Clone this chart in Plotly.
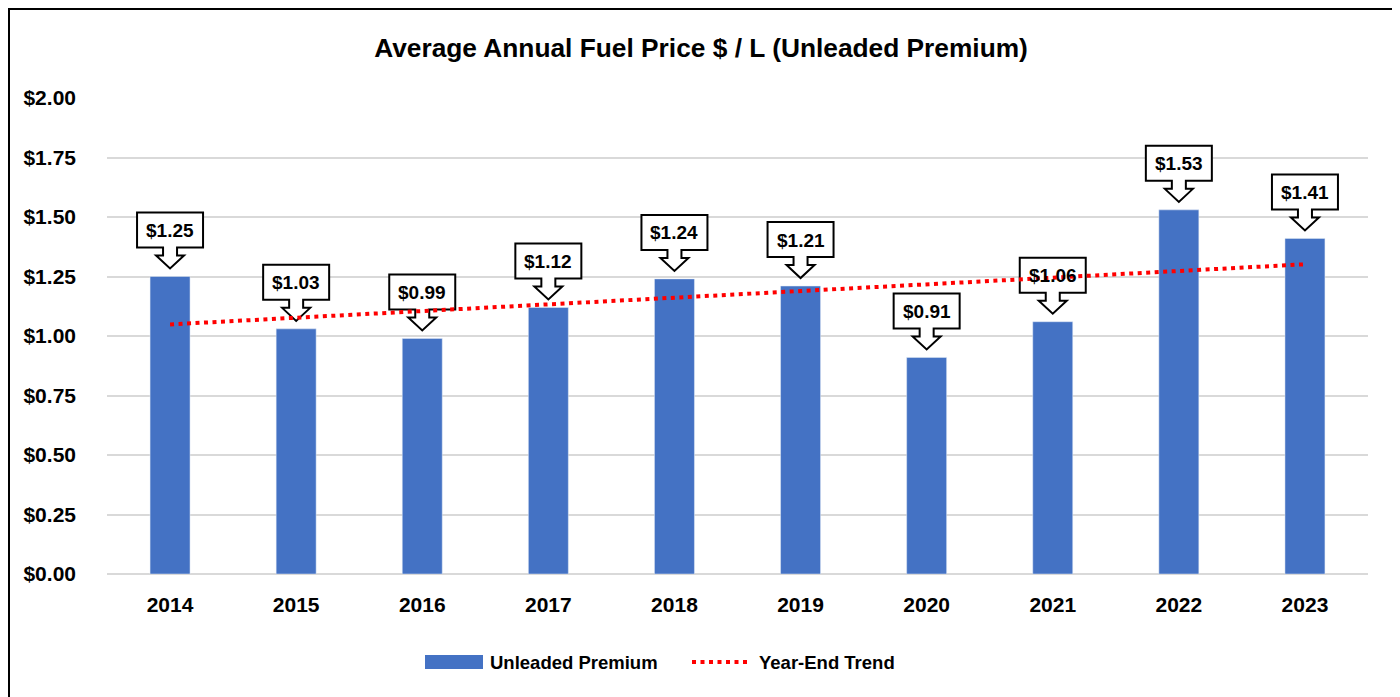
import numpy as np
import plotly.graph_objects as go

years = ["2014", "2015", "2016", "2017", "2018", "2019", "2020", "2021", "2022", "2023"]
prices = [1.25, 1.03, 0.99, 1.12, 1.24, 1.21, 0.91, 1.06, 1.53, 1.41]
y_ticks = [0, 0.25, 0.5, 0.75, 1.0, 1.25, 1.5, 1.75, 2.0]
y_tick_labels = [f"${t:.2f}" for t in y_ticks]

BLUE = "#4472C4"
FONT = "Liberation Sans Narrow, Arial Narrow, Liberation Sans, Arial, sans-serif"

# linear trend (as Excel's linear trendline)
xi = np.arange(len(prices))
slope, intercept = np.polyfit(xi, prices, 1)
trend = intercept + slope * xi

# the page adds an 8px body margin, so the figure is sized/offset to compensate
OFF = 8
W, H = 1400 - OFF, 697 - OFF
ML, MR, MT, MB = 107 - OFF, 32, 98 - OFF, 123
PW, PH = W - ML - MR, H - MT - MB

def px_x(p):  # page pixel -> paper
    return (p - OFF - ML) / PW

def px_y(p):
    return 1 - (p - OFF - MT) / PH

fig = go.Figure()
fig.add_trace(go.Bar(x=xi, y=prices, name="Unleaded Premium", marker_color=BLUE,
                     width=0.317, showlegend=False))
fig.add_trace(go.Scatter(x=xi, y=trend, name="Year-End Trend", mode="lines",
                         line=dict(color="#FF0000", width=4, dash="4px,4.5px"),
                         showlegend=False))

shapes = []
annotations = []
callout = "M -33,29 L -33,64 L 33,64 L 33,29 L 7,29 L 7,21 L 14,21 L 0,8 L -14,21 L -7,21 L -7,29 Z"
for i, v in zip(xi, prices):
    shapes.append(dict(type="path", xref="x", yref="y", xsizemode="pixel", ysizemode="pixel",
                       xanchor=int(i), yanchor=v, path=callout, fillcolor="white",
                       line=dict(color="black", width=2), layer="between"))
    annotations.append(dict(x=int(i), y=v, xref="x", yref="y", text=f"${v:.2f}", showarrow=False,
                            yshift=46, font=dict(family=FONT, size=19, color="black", weight="bold")))

# outer border
shapes.append(dict(type="rect", xref="paper", yref="paper", x0=px_x(9), x1=px_x(1397),
                   y0=px_y(9), y1=px_y(720), line=dict(color="black", width=2),
                   fillcolor="rgba(0,0,0,0)", layer="above"))

# custom legend
shapes.append(dict(type="rect", xref="paper", yref="paper", x0=px_x(425), x1=px_x(483),
                   y0=px_y(655), y1=px_y(669), fillcolor=BLUE, line=dict(width=0)))
shapes.append(dict(type="line", xref="paper", yref="paper", x0=px_x(692), x1=px_x(750),
                   y0=px_y(662), y1=px_y(662), line=dict(color="#FF0000", width=4, dash="4px,4.5px")))
annotations.append(dict(x=px_x(488), y=px_y(662), xref="paper", yref="paper", text="Unleaded Premium",
                        xanchor="left", yanchor="middle", showarrow=False,
                        font=dict(family=FONT, size=18.5, color="black", weight="bold")))
annotations.append(dict(x=px_x(757), y=px_y(662), xref="paper", yref="paper", text="Year-End Trend",
                        xanchor="left", yanchor="middle", showarrow=False,
                        font=dict(family=FONT, size=18.5, color="black", weight="bold")))

fig.update_layout(
    width=W, height=H,
    margin=dict(l=ML, r=MR, t=MT, b=MB),
    paper_bgcolor="white", plot_bgcolor="white",
    title=dict(text="Average Annual Fuel Price $ / L (Unleaded Premium)", x=(701 - OFF) / W,
               xref="container", y=1 - (48 - OFF) / H, yref="container",
               xanchor="center", yanchor="middle",
               font=dict(family=FONT, size=26.3, color="black", weight="bold")),
    shapes=shapes, annotations=annotations,
    xaxis=dict(range=[-0.5, len(years) - 0.5], tickvals=xi, ticktext=years,
               showgrid=False, showline=False, ticks="", zeroline=False,
               tickfont=dict(family=FONT, size=21, color="black", weight="bold"),
               ticklabelstandoff=16),
    yaxis=dict(range=[0, 2], tickvals=y_ticks, ticktext=y_tick_labels,
               showgrid=True, gridcolor="#D9D9D9", gridwidth=1.5, zeroline=True,
               zerolinecolor="#D9D9D9", zerolinewidth=1.5, showline=False, ticks="",
               tickfont=dict(family=FONT, size=21, color="black", weight="bold"),
               ticklabelstandoff=30),
    showlegend=False,
)

fig.write_html("out.html")
